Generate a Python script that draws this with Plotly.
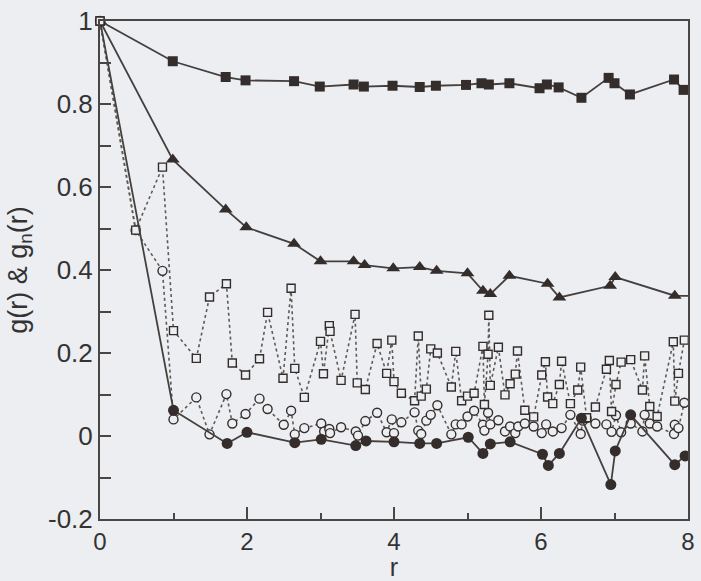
import plotly.graph_objects as go

# ---- data ----
r_fsq = [0, 0.99, 1.71, 1.98, 2.64, 2.99, 3.45, 3.59, 3.98, 4.35, 4.57, 4.98, 5.19, 5.29,
         5.57, 5.98, 6.08, 6.24, 6.55, 6.92, 7.0, 7.21, 7.81, 7.94]
g_fsq = [1.0, 0.903, 0.865, 0.857, 0.855, 0.842, 0.847, 0.842, 0.844, 0.841, 0.844, 0.846,
         0.850, 0.847, 0.850, 0.838, 0.847, 0.840, 0.815, 0.863, 0.850, 0.823, 0.859, 0.834]

r_tri = [0, 0.99, 1.71, 1.99, 2.64, 3.0, 3.45, 3.6, 3.99, 4.35, 4.58, 5.0, 5.21, 5.31,
         5.57, 6.09, 6.25, 6.94, 7.01, 7.82, 8.15]
g_tri = [1.0, 0.666, 0.546, 0.503, 0.463, 0.421, 0.421, 0.412, 0.404, 0.407, 0.398, 0.392,
         0.350, 0.342, 0.386, 0.367, 0.334, 0.362, 0.383, 0.338, 0.337]

r_fci = [0, 1.0, 1.73, 2.0, 2.65, 3.01, 3.48, 3.62, 4.0, 4.35, 4.58, 5.01, 5.21, 5.31,
         5.58, 6.02, 6.1, 6.25, 6.55, 6.95, 7.01, 7.22, 7.82, 7.96]
g_fci = [1.0, 0.062, -0.018, 0.009, -0.016, -0.008, -0.023, -0.012, -0.014, -0.018, -0.018,
         -0.003, -0.042, -0.019, -0.014, -0.044, -0.071, -0.042, 0.043, -0.117, -0.036,
         0.051, -0.069, -0.048]

r_osq = [0, 0.485, 0.85, 1.0, 1.31, 1.49, 1.72, 1.80, 1.98, 2.17, 2.28, 2.49, 2.60, 2.65,
         2.78, 3.0, 3.04, 3.12, 3.13, 3.28, 3.47, 3.50, 3.61, 3.77, 3.90, 3.97, 4.0, 4.10,
         4.28, 4.33, 4.37, 4.44, 4.50, 4.59, 4.78, 4.84, 4.92, 5.0, 5.09, 5.21, 5.23, 5.28,
         5.29, 5.31, 5.42, 5.51, 5.58, 5.65, 5.68, 5.78, 5.90, 6.01, 6.06, 6.09, 6.16, 6.25,
         6.28, 6.40, 6.50, 6.54, 6.62, 6.74, 6.89, 6.93, 6.96, 7.02, 7.09, 7.22, 7.38, 7.41,
         7.48, 7.58, 7.80, 7.82, 7.87, 7.95]
g_osq = [1.0, 0.496, 0.648, 0.254, 0.187, 0.335, 0.367, 0.176, 0.147, 0.186, 0.298, 0.139,
         0.356, 0.163, 0.093, 0.228, 0.150, 0.266, 0.252, 0.134, 0.293, 0.128, 0.112, 0.223,
         0.151, 0.231, 0.131, 0.103, 0.085, 0.241, 0.096, 0.113, 0.210, 0.200, 0.118, 0.204,
         0.085, 0.096, 0.103, 0.216, 0.076, 0.197, 0.291, 0.122, 0.214, 0.099, 0.126, 0.149,
         0.205, 0.062, 0.046, 0.147, 0.179, 0.094, 0.078, 0.124, 0.180, 0.078, 0.111, 0.166,
         0.044, 0.070, 0.161, 0.182, 0.059, 0.124, 0.178, 0.184, 0.111, 0.193, 0.071, 0.047,
         0.227, 0.084, 0.151, 0.231]

r_oci = [0, 0.485, 0.85, 1.0, 1.31, 1.49, 1.72, 1.80, 1.98, 2.17, 2.28, 2.50, 2.60, 2.65,
         2.78, 3.01, 3.05, 3.12, 3.13, 3.28, 3.48, 3.51, 3.61, 3.77, 3.90, 3.97, 4.0, 4.10,
         4.28, 4.33, 4.37, 4.44, 4.50, 4.59, 4.78, 4.84, 4.92, 5.0, 5.09, 5.21, 5.23, 5.28,
         5.31, 5.42, 5.51, 5.58, 5.65, 5.69, 5.78, 5.90, 6.01, 6.07, 6.16, 6.28, 6.40, 6.54,
         6.57, 6.62, 6.74, 6.89, 6.96, 7.02, 7.09, 7.22, 7.38, 7.41, 7.48, 7.58, 7.81, 7.82,
         7.87, 7.95]
g_oci = [1.0, 0.496, 0.398, 0.040, 0.093, 0.004, 0.101, 0.030, 0.053, 0.090, 0.065, 0.027,
         0.061, 0.004, 0.019, 0.030, 0.011, 0.017, 0.007, 0.021, 0.011, 0.001, 0.036, 0.056,
         0.009, 0.040, 0.007, 0.033, 0.057, 0.013, 0.005, 0.037, 0.051, 0.074, 0.004, 0.028,
         0.028, 0.047, 0.061, 0.027, 0.013, 0.056, 0.028, 0.038, 0.011, 0.023, 0.007, 0.023,
         0.030, 0.023, 0.007, 0.028, 0.011, 0.019, 0.051, 0.005, 0.037, 0.043, 0.030, 0.028,
         0.010, 0.050, 0.009, 0.030, 0.011, 0.051, 0.030, 0.023, 0.005, 0.027, 0.019, 0.080]

y_ticks = [-0.2, 0, 0.2, 0.4, 0.6, 0.8, 1]
y_ticktext = ["-0.2", "0", "0.2", "0.4", "0.6", "0.8", "1"]
x_ticks = [0, 2, 4, 6, 8]

BG = "#eceef1"
INK = "#352d2b"
LINE = "#45403e"
DOT = "#5e5a58"
AXC = "#4a4644"
FONT = "Liberation Sans, Arial, sans-serif"

fig = go.Figure()

def open_trace(x, y, sym, size):
    return go.Scatter(
        x=x, y=y, mode="lines+markers", cliponaxis=False,
        line=dict(color=DOT, width=1.6, dash="dot"),
        marker=dict(symbol=sym, size=size, color=BG, line=dict(color=INK, width=1.4)),
        showlegend=False)

def solid_trace(x, y, sym, size):
    return go.Scatter(
        x=x, y=y, mode="lines+markers", cliponaxis=True,
        line=dict(color=LINE, width=1.8),
        marker=dict(symbol=sym, size=size, color=INK, line=dict(color=INK, width=0)),
        showlegend=False)

fig.add_trace(open_trace(r_oci, g_oci, "circle", 9))
fig.add_trace(open_trace(r_osq, g_osq, "square", 8))
fig.add_trace(solid_trace(r_fci, g_fci, "circle", 11))
fig.add_trace(solid_trace(r_tri, g_tri, "triangle-up", 12))
fig.add_trace(solid_trace(r_fsq, g_fsq, "square", 10))
# open square of the first point drawn on top (as in the reference)
fig.add_trace(go.Scatter(
    x=r_osq[:1], y=g_osq[:1], mode="markers", cliponaxis=False,
    marker=dict(symbol="square", size=8, color=BG, line=dict(color=INK, width=1.4)),
    showlegend=False))

axis_common = dict(
    showline=True, linecolor=AXC, linewidth=2, mirror=True,
    showgrid=False, zeroline=False, ticks="inside", tickcolor=AXC,
    tickwidth=1.5, ticklabeloverflow="allow",
)

fig.update_layout(
    width=701, height=581,
    margin=dict(l=100, r=6, t=10, b=49),
    paper_bgcolor=BG, plot_bgcolor=BG,
    font=dict(family=FONT, color="#333333"),
    xaxis=dict(
        range=[0, 8], tickvals=x_ticks, ticklen=12,
        tickfont=dict(family=FONT, size=24, color="#333333"),
        minor=dict(dtick=1, tick0=0, ticks="inside", ticklen=6, tickcolor=AXC,
                   tickwidth=1.5),
        title=dict(text="r", font=dict(family=FONT, size=25), standoff=3),
        **axis_common),
    yaxis=dict(
        range=[-0.2, 1], tickvals=y_ticks, ticktext=y_ticktext, ticklen=11,
        tickfont=dict(family=FONT, size=26, color="#333333"),
        minor=dict(dtick=0.1, tick0=0, ticks="inside", ticklen=11, tickcolor=AXC,
                   tickwidth=1.5),
        title=dict(text="g(r) & g<sub>n</sub>(r)", font=dict(family=FONT, size=27),
                   standoff=13),
        **axis_common),
)

fig.write_html("out.html")
